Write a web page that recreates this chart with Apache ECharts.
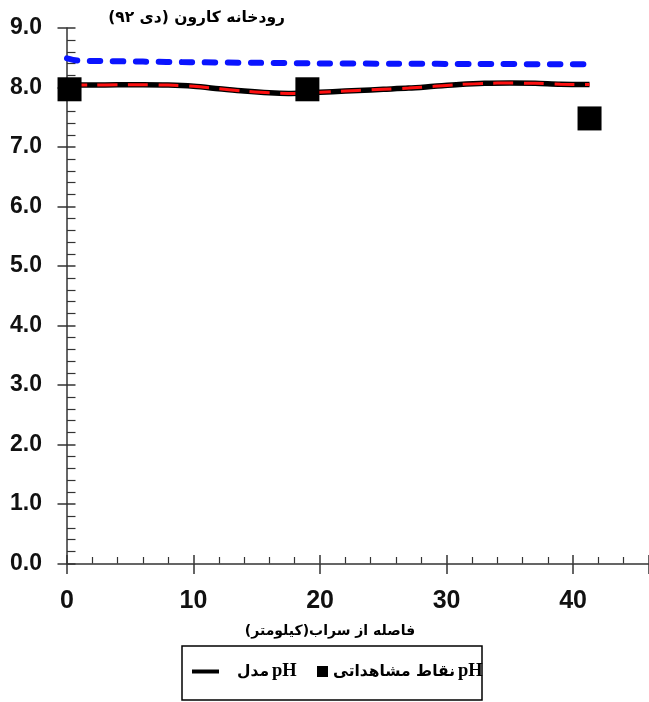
<!DOCTYPE html>
<html>
<head>
<meta charset="utf-8">
<script src="https://cdn.jsdelivr.net/npm/echarts@6/dist/echarts.min.js"></script>
<style>
html,body{margin:0;padding:0;background:#fff;}
#chart{width:649px;height:702px;}
</style>
</head>
<body>
<div id="chart"></div>
<script>
// ---- data ----
const RLE = '\u202B', PDF = '\u202C';
const titleText = RLE + 'رودخانه کارون (دی ۹۲)' + PDF;
const xAxisName = RLE + 'فاصله از سراب(کیلومتر)' + PDF;
const modelName = 'model';
const obsName = 'observed';
const modelLabel = ['مدل', 'pH'];
const obsLabel = ['نقاط مشاهداتی', 'pH'];

// model pH (black line with red dashes)
const modelKm = [0, 2, 4, 6, 8, 10, 12, 14, 16, 17.5, 19, 21, 23, 25, 27, 29, 31, 33, 35, 37, 39, 41.3];
const modelPH = [8.04, 8.04, 8.045, 8.045, 8.04, 8.02, 7.98, 7.94, 7.91, 7.90, 7.91, 7.93, 7.95, 7.97, 7.99, 8.02, 8.05, 8.07, 8.075, 8.07, 8.055, 8.05];

// blue dashed line
const blueKm = [0, 0.8, 2.6, 6, 9.7, 15, 20, 26, 32.5, 41.3];
const bluePH = [8.49, 8.455, 8.445, 8.435, 8.425, 8.415, 8.405, 8.40, 8.395, 8.39];

// observed points
const obsKm = [0.2, 19, 41.3];
const obsPH = [7.97, 7.97, 7.48];

const zip = (a, b) => a.map((v, i) => [v, b[i]]);

const arabicFont = "'DejaVu Sans'";
const axisColor = '#333';
const legendRich = {
  ar: {fontFamily: arabicFont, fontWeight: 'bold', fontSize: 15.5, color: '#000'},
  arPad: {fontFamily: arabicFont, fontWeight: 'bold', fontSize: 15.5, color: '#000', padding: [0, 0, 0, 13]},
  lat: {fontFamily: "'Liberation Serif'", fontWeight: 'bold', fontSize: 18.5, color: '#000', padding: [0, 0, 0, 3]}
};

const chart = echarts.init(document.getElementById('chart'), null, {renderer: 'canvas'});

const option = {
  animation: false,
  backgroundColor: '#fff',
  grid: {left: 67, right: 0, top: 28, bottom: 138.5, containLabel: false},
  xAxis: [
    {
      type: 'value', min: 0, max: 46, interval: 10, position: 'bottom',
      axisLine: {show: true, onZero: false, lineStyle: {color: axisColor, width: 1.5}},
      axisTick: {show: true, inside: true, length: 8.5, lineStyle: {color: axisColor, width: 1.5}},
      minorTick: {show: true, splitNumber: 5, length: 6.5, lineStyle: {color: axisColor, width: 1.2}},
      splitLine: {show: false},
      axisLabel: {
        show: true, margin: 25, color: '#111',
        fontFamily: "'Liberation Sans'", fontWeight: 'bold', fontSize: 25,
        showMaxLabel: false
      }
    },
    {
      type: 'value', min: 0, max: 46, interval: 10, position: 'bottom',
      axisLine: {show: false, onZero: false},
      axisTick: {show: true, inside: false, length: 10.5, lineStyle: {color: axisColor, width: 1.5}},
      splitLine: {show: false},
      axisLabel: {show: false}
    }
  ],
  yAxis: [
    {
      type: 'value', min: 0, max: 9, interval: 1, position: 'left',
      axisLine: {show: true, onZero: false, lineStyle: {color: axisColor, width: 1.5}},
      axisTick: {show: true, inside: true, length: 8.5, lineStyle: {color: axisColor, width: 1.5}},
      minorTick: {show: true, splitNumber: 5, length: 8.5, lineStyle: {color: axisColor, width: 1.2}},
      splitLine: {show: false},
      axisLabel: {
        show: true, margin: 25, color: '#111',
        fontFamily: "'Liberation Sans'", fontWeight: 'bold', fontSize: 23,
        formatter: v => v.toFixed(1)
      }
    },
    {
      type: 'value', min: 0, max: 9, interval: 1, position: 'left',
      axisLine: {show: false, onZero: false},
      axisTick: {show: true, inside: false, length: 9.5, lineStyle: {color: axisColor, width: 1.5}},
      splitLine: {show: false},
      axisLabel: {show: false}
    }
  ],
  legend: [
    {
      data: [modelName], left: 192, top: 662, padding: 0,
      icon: 'rect', itemWidth: 27, itemHeight: 4, selectedMode: false,
      formatter: () => '{arPad|' + modelLabel[0] + '}{lat|' + modelLabel[1] + '}',
      textStyle: {rich: legendRich}
    },
    {
      data: [obsName], left: 317, top: 662, padding: 0,
      icon: 'rect', itemWidth: 11, itemHeight: 11, selectedMode: false,
      formatter: () => '{ar|' + obsLabel[0] + '}{lat|' + obsLabel[1] + '}',
      textStyle: {rich: legendRich}
    }
  ],
  graphic: [
    {
      type: 'text', x: 285, y: 18, silent: true,
      style: {text: titleText, font: "bold 15.5px " + arabicFont, fill: '#000', textAlign: 'right', textVerticalAlign: 'middle'}
    },
    {
      type: 'text', x: 330, y: 631, silent: true,
      style: {text: xAxisName, font: "bold 14px " + arabicFont, fill: '#000', textAlign: 'center', textVerticalAlign: 'middle'}
    },
    {
      type: 'rect', silent: true,
      shape: {x: 182, y: 646, width: 300, height: 54},
      style: {fill: 'rgba(0,0,0,0)', stroke: '#000', lineWidth: 1.5}
    }
  ],
  series: [
    {
      name: 'blue', type: 'line', xAxisIndex: 0, yAxisIndex: 0, z: 2,
      data: zip(blueKm, bluePH), symbol: 'none', smooth: 0.3, silent: true,
      lineStyle: {color: '#0a14ff', width: 6, type: [10.5, 12.5], cap: 'round'}
    },
    {
      name: modelName, type: 'line', xAxisIndex: 0, yAxisIndex: 0, z: 3,
      data: zip(modelKm, modelPH), symbol: 'none', smooth: 0.3, silent: true,
      color: '#000',
      itemStyle: {color: '#000'},
      lineStyle: {color: '#000', width: 5.5}
    },
    {
      name: 'red', type: 'line', xAxisIndex: 0, yAxisIndex: 0, z: 4,
      data: zip(modelKm, modelPH), symbol: 'none', smooth: 0.3, silent: true,
      lineStyle: {color: '#ff1010', width: 3, type: [20, 10.5]}
    },
    {
      name: obsName, type: 'scatter', xAxisIndex: 0, yAxisIndex: 0, z: 5,
      data: zip(obsKm, obsPH), symbol: 'rect', symbolSize: 24, silent: true,
      itemStyle: {color: '#000', opacity: 1}
    }
  ]
};
chart.setOption(option);
</script>
</body>
</html>
